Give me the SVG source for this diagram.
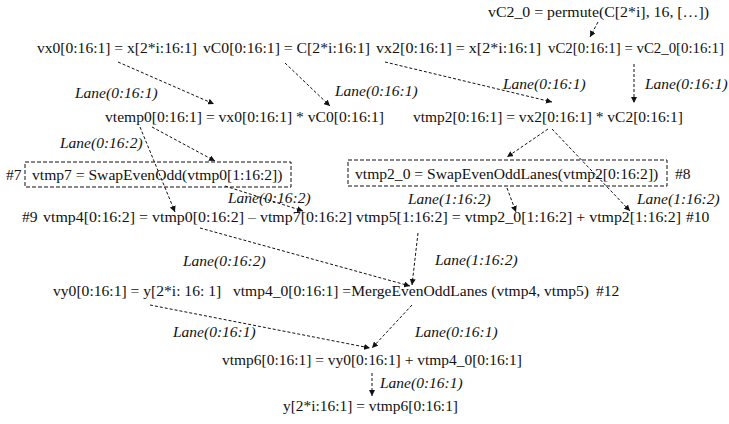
<svg xmlns="http://www.w3.org/2000/svg" width="729" height="424" viewBox="0 0 729 424">
<style>
text{font-family:"Liberation Serif","Times New Roman",serif;font-size:15.6px;fill:#111}
.l{font-style:italic;font-size:15.5px}
.s{font-size:14.8px}
.e{fill:none;stroke:#111;stroke-width:1;stroke-dasharray:3,2}
.b{fill:none;stroke:#111;stroke-width:1;stroke-dasharray:4,2}
</style>
<defs>
<marker id="ah" markerUnits="userSpaceOnUse" markerWidth="7" markerHeight="6" refX="6" refY="3" orient="auto">
<path d="M0,0 L6,3 L0,6 z" fill="#111"/>
</marker>
</defs>
<g id="connectors">
<line class="e" x1="118" y1="62" x2="214" y2="104" marker-end="url(#ah)"/>
<line class="e" x1="285" y1="63" x2="330" y2="106" marker-end="url(#ah)"/>
<line class="e" x1="598" y1="22" x2="590" y2="37" marker-end="url(#ah)"/>
<line class="e" x1="385" y1="62" x2="552" y2="102" marker-end="url(#ah)"/>
<line class="e" x1="634" y1="64" x2="634" y2="103" marker-end="url(#ah)"/>
<line class="e" x1="140" y1="127" x2="175" y2="212" marker-end="url(#ah)"/>
<line class="e" x1="152" y1="127" x2="215" y2="161" marker-end="url(#ah)"/>
<line class="e" x1="225" y1="186" x2="303" y2="211" marker-end="url(#ah)"/>
<line class="e" x1="548" y1="129" x2="507" y2="157" marker-end="url(#ah)"/>
<line class="e" x1="552" y1="129" x2="630" y2="211" marker-end="url(#ah)"/>
<line class="e" x1="507" y1="188" x2="516" y2="212" marker-end="url(#ah)"/>
<line class="e" x1="200" y1="228" x2="410" y2="286" marker-end="url(#ah)"/>
<line class="e" x1="418" y1="233" x2="412" y2="285" marker-end="url(#ah)"/>
<line class="e" x1="412" y1="305" x2="372" y2="348" marker-end="url(#ah)"/>
<line class="e" x1="150" y1="305" x2="370" y2="348" marker-end="url(#ah)"/>
<line class="e" x1="372" y1="373" x2="372" y2="396" marker-end="url(#ah)"/>
</g>
<g id="labels">
<text class="l" x="75" y="98">Lane(0:16:1)</text>
<text class="l" x="335" y="96">Lane(0:16:1)</text>
<text class="l" x="503" y="89">Lane(0:16:1)</text>
<text class="l" x="645" y="89">Lane(0:16:1)</text>
<text class="l" x="60" y="148">Lane(0:16:2)</text>
<text class="l" x="228" y="203">Lane(0:16:2)</text>
<text class="l" x="408" y="204">Lane(1:16:2)</text>
<text class="l" x="637" y="204">Lane(1:16:2)</text>
<text class="l" x="183" y="266">Lane(0:16:2)</text>
<text class="l" x="435" y="265">Lane(1:16:2)</text>
<text class="l" x="173" y="337">Lane(0:16:1)</text>
<text class="l" x="415" y="337">Lane(0:16:1)</text>
<text class="l" x="380" y="388">Lane(0:16:1)</text>
</g>
<g id="n_vC2_0"><text x="488" y="17" textLength="221" lengthAdjust="spacingAndGlyphs">vC2_0 = permute(C[2*i], 16, […])</text></g>
<g id="n_vx0"><text x="37" y="53" textLength="160" lengthAdjust="spacingAndGlyphs">vx0[0:16:1] = x[2*i:16:1]</text></g>
<g id="n_vC0"><text x="203" y="53" textLength="167" lengthAdjust="spacingAndGlyphs">vC0[0:16:1] = C[2*i:16:1]</text></g>
<g id="n_vx2"><text x="376" y="53" textLength="165" lengthAdjust="spacingAndGlyphs">vx2[0:16:1] = x[2*i:16:1]</text></g>
<g id="n_vC2"><text class="s" x="548" y="53" textLength="176" lengthAdjust="spacingAndGlyphs">vC2[0:16:1] = vC2_0[0:16:1]</text></g>
<g id="n_vtemp0"><text x="105" y="122" textLength="279" lengthAdjust="spacingAndGlyphs">vtemp0[0:16:1] = vx0[0:16:1] * vC0[0:16:1]</text></g>
<g id="n_vtmp2"><text x="413" y="122" textLength="270" lengthAdjust="spacingAndGlyphs">vtmp2[0:16:1] = vx2[0:16:1] * vC2[0:16:1]</text></g>
<g id="n_vtmp7"><text x="6" y="180">#7</text><rect class="b" x="25" y="162" width="266" height="25"/><text x="32" y="180">vtmp7 = SwapEvenOdd(vtmp0[1:16:2])</text></g>
<g id="n_vtmp2_0"><rect class="b" x="348" y="160" width="319" height="26"/><text x="355" y="179">vtmp2_0 = SwapEvenOddLanes(vtmp2[0:16:2])</text><text x="675" y="179">#8</text></g>
<g id="n_vtmp4"><text x="22" y="222">#9</text><text x="43" y="222" textLength="309" lengthAdjust="spacingAndGlyphs">vtmp4[0:16:2] = vtmp0[0:16:2] – vtmp7[0:16:2]</text></g>
<g id="n_vtmp5"><text x="356" y="222" textLength="325" lengthAdjust="spacingAndGlyphs">vtmp5[1:16:2] = vtmp2_0[1:16:2] + vtmp2[1:16:2]</text><text x="686" y="222">#10</text></g>
<g id="n_vy0"><text x="53" y="296">vy0[0:16:1] = y[2*i: 16: 1]</text></g>
<g id="n_vtmp4_0"><text x="233" y="296" textLength="356" lengthAdjust="spacingAndGlyphs">vtmp4_0[0:16:1] =MergeEvenOddLanes (vtmp4, vtmp5)</text><text x="596" y="296">#12</text></g>
<g id="n_vtmp6"><text x="222" y="365" textLength="300" lengthAdjust="spacingAndGlyphs">vtmp6[0:16:1] = vy0[0:16:1] + vtmp4_0[0:16:1]</text></g>
<g id="n_y"><text x="283" y="411" textLength="175" lengthAdjust="spacingAndGlyphs">y[2*i:16:1] = vtmp6[0:16:1]</text></g>
</svg>
